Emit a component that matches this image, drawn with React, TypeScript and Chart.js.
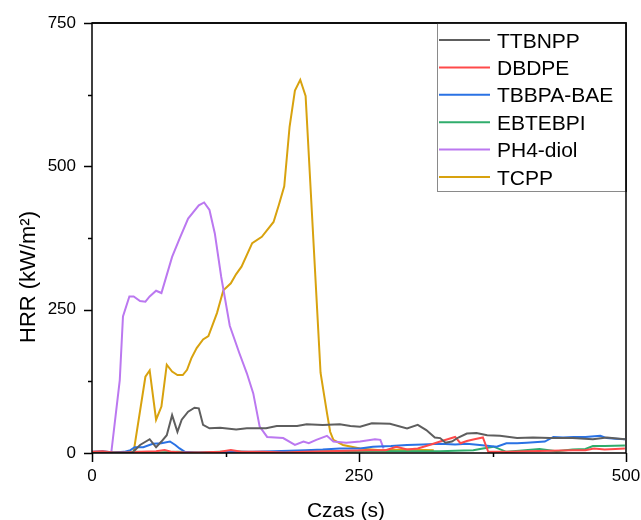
import React, { useEffect, useRef } from "react";
import { Chart, registerables } from "chart.js";

Chart.register(...registerables);

// ---- data (time in s, HRR in kW/m²) ----
const ttbnppT = [0, 38, 45, 54, 60, 65, 70, 75, 80, 84, 90, 96, 100, 104, 110, 120, 135, 145, 163, 173, 192, 201, 216, 232, 242, 251, 262, 279, 295, 305, 313, 321, 326, 331, 337, 343, 351, 360, 370, 382, 398, 413, 429, 450, 469, 482, 499];
const ttbnppV = [0, 1, 14, 24, 10, 20, 31, 66, 37, 58, 72, 79, 78, 49, 43, 44, 41, 43, 43, 47, 47, 50, 49, 50, 47, 46, 52, 51, 43, 49, 40, 27, 26, 18, 20, 27, 34, 35, 31, 30, 26, 27, 26, 26, 24, 27, 24];

const dbdpeT = [0, 10, 20, 30, 45, 60, 68, 75, 85, 100, 120, 130, 140, 160, 180, 200, 220, 240, 260, 275, 285, 295, 305, 316, 326, 333, 340, 345, 351, 358, 366, 371, 380, 390, 407, 430, 450, 462, 470, 480, 490, 499];
const dbdpeV = [2, 3, 1, 1, 2, 3, 5, 2, 1, 1, 2, 5, 2, 2, 1, 2, 3, 4, 5, 5, 11, 6, 8, 14, 20, 24, 28, 17, 21, 24, 27, 2, 2, 2, 3, 4, 5, 5, 8, 6, 7, 8];

const tbbpaT = [0, 10, 20, 30, 36, 40, 48, 57, 65, 73, 78, 82, 87, 95, 110, 130, 150, 170, 185, 200, 216, 232, 251, 263, 280, 295, 310, 326, 340, 351, 363, 379, 388, 398, 407, 424, 432, 441, 451, 462, 476, 482, 490, 499];
const tbbpaV = [2, 3, 1, 2, 5, 10, 10, 16, 17, 20, 14, 8, 2, 1, 1, 2, 2, 3, 4, 5, 6, 8, 8, 11, 12, 14, 15, 16, 15, 16, 14, 11, 17, 17, 18, 20, 28, 27, 28, 28, 30, 26, 25, 24];

const ebtebpiT = [0, 20, 40, 60, 80, 100, 120, 140, 160, 180, 200, 220, 240, 260, 280, 300, 326, 340, 357, 366, 376, 388, 400, 419, 435, 450, 462, 469, 480, 499];
const ebtebpiV = [1, 1, 2, 1, 2, 1, 2, 2, 1, 2, 2, 3, 2, 3, 3, 3, 3, 4, 5, 8, 11, 2, 4, 7, 3, 6, 7, 12, 12, 13];

const ph4T = [18, 26, 29, 35, 39, 45, 50, 54, 60, 65, 75, 82, 90, 100, 105, 110, 115, 121, 129, 138, 145, 151, 157, 164, 179, 190, 198, 203, 210, 220, 226, 238, 251, 265, 270, 273];
const ph4V = [0, 127, 238, 273, 273, 265, 264, 273, 283, 279, 342, 374, 409, 432, 437, 424, 383, 307, 222, 174, 139, 104, 46, 28, 26, 14, 20, 17, 23, 30, 20, 18, 20, 24, 23, 8];

const tcppT = [38, 39, 50, 54, 60, 65, 70, 75, 80, 85, 89, 93, 98, 104, 109, 117, 123, 130, 135, 140, 150, 159, 170, 175, 180, 185, 190, 195, 200, 214, 217, 220, 223, 226, 235, 251, 270, 295, 320];
const tcppV = [0, 2, 133, 144, 58, 81, 154, 142, 136, 136, 145, 165, 183, 198, 204, 244, 284, 296, 312, 325, 366, 377, 403, 433, 465, 569, 632, 651, 623, 140, 105, 70, 37, 23, 14, 8, 5, 6, 5];

const seriesLabels = ["TTBNPP", "DBDPE", "TBBPA-BAE", "EBTEBPI", "PH4-diol", "TCPP"];
const seriesColors = ["#5e5e5e", "#ff4a4a", "#2a72e4", "#30ad6c", "#bb78f0", "#d8a20e"];
const seriesTimes = [ttbnppT, dbdpeT, tbbpaT, ebtebpiT, ph4T, tcppT];
const seriesValues = [ttbnppV, dbdpeV, tbbpaV, ebtebpiV, ph4V, tcppV];

const yTicks = [0, 125, 250, 375, 500, 625, 750];
const xTicks = [0, 125, 250, 375, 500];

const FONT = '"Liberation Sans", Arial, sans-serif';

const decorPlugin = {
  id: "decor",
  afterDraw(chart: any) {
    const { ctx, chartArea: a, scales } = chart;
    ctx.save();
    // frame
    ctx.strokeStyle = "#000";
    ctx.lineWidth = 1.5;
    ctx.strokeRect(a.left, a.top, a.right - a.left, a.bottom - a.top);
    // ticks
    ctx.beginPath();
    for (const v of yTicks) {
      const p = Math.round(scales.y.getPixelForValue(v)) + 0.5;
      const len = v % 250 === 0 ? 8 : 4;
      ctx.moveTo(a.left - len, p);
      ctx.lineTo(a.left, p);
    }
    for (const v of xTicks) {
      const p = Math.round(scales.x.getPixelForValue(v)) + 0.5;
      const len = v % 250 === 0 ? 9 : 4;
      ctx.moveTo(p, a.bottom);
      ctx.lineTo(p, a.bottom + len);
    }
    ctx.stroke();

    // axis titles
    ctx.fillStyle = "#000";
    ctx.font = `21px ${FONT}`;
    ctx.textAlign = "center";
    ctx.textBaseline = "alphabetic";
    ctx.fillText("Czas (s)", 346, 517);
    ctx.save();
    ctx.translate(35, 277);
    ctx.rotate(-Math.PI / 2);
    ctx.font = `22px ${FONT}`;
    ctx.fillText("HRR (kW/m²)", 0, 0);
    ctx.restore();

    // legend
    const lx = 437, ly = a.top, lw = a.right - 437, lh = 169;
    ctx.fillStyle = "#fff";
    ctx.fillRect(lx, ly, lw, lh);
    ctx.strokeStyle = "#8a8a8a";
    ctx.lineWidth = 1;
    ctx.strokeRect(lx + 0.5, ly + 0.5, lw - 1, lh - 1);
    ctx.strokeStyle = "#000";
    ctx.lineWidth = 1.5;
    ctx.beginPath();
    ctx.moveTo(a.left, a.top);
    ctx.lineTo(a.right, a.top);
    ctx.lineTo(a.right, a.top + lh);
    ctx.stroke();
    ctx.font = `21px ${FONT}`;
    ctx.textAlign = "left";
    seriesLabels.forEach((lab, i) => {
      const y = 40 + i * 27.4;
      ctx.strokeStyle = seriesColors[i];
      ctx.lineWidth = 2;
      ctx.beginPath();
      ctx.moveTo(439, y);
      ctx.lineTo(490, y);
      ctx.stroke();
      ctx.fillStyle = "#000";
      ctx.fillText(lab, 497, y + 7.5);
    });
    ctx.restore();
  },
};

export default function App() {
  const ref = useRef<HTMLCanvasElement | null>(null);
  useEffect(() => {
    if (!ref.current) return;
    const datasets = seriesLabels.map((label, i) => ({
      label,
      data: seriesTimes[i].map((t, j) => ({ x: t, y: seriesValues[i][j] })),
      borderColor: seriesColors[i],
      backgroundColor: seriesColors[i],
      borderWidth: 2,
      pointRadius: 0,
      tension: 0,
      fill: false,
    }));
    const zeroPad = (s: any) => {
      s.paddingLeft = 0;
      s.paddingRight = 0;
      s.paddingTop = 0;
      s.paddingBottom = 0;
    };
    const chart = new Chart(ref.current, {
      type: "line",
      data: { datasets },
      options: {
        animation: false,
        responsive: false,
        maintainAspectRatio: false,
        layout: { padding: { top: 23, right: 15, left: 0, bottom: 0 } },
        plugins: { legend: { display: false }, tooltip: { enabled: false } },
        scales: {
          x: {
            type: "linear",
            min: 0,
            max: 500,
            grid: { display: false, drawTicks: false },
            border: { display: false },
            afterFit: (s: any) => { s.height = 67; zeroPad(s); },
            afterBuildTicks: (s: any) => { s.ticks = xTicks.map((v) => ({ value: v })); },
            ticks: {
              padding: 13,
              color: "#000",
              font: { family: FONT, size: 17 },
              maxRotation: 0,
              callback: (v: any) => (Number(v) % 250 === 0 ? String(v) : ""),
            },
          },
          y: {
            type: "linear",
            min: 0,
            max: 750,
            grid: { display: false, drawTicks: false },
            border: { display: false },
            afterFit: (s: any) => { s.width = 92; zeroPad(s); },
            afterBuildTicks: (s: any) => { s.ticks = yTicks.map((v) => ({ value: v })); },
            ticks: {
              padding: 16,
              color: "#000",
              font: { family: FONT, size: 17 },
              callback: (v: any) => (Number(v) % 250 === 0 ? String(v) : ""),
            },
          },
        },
      },
      plugins: [decorPlugin],
    });
    return () => chart.destroy();
  }, []);
  return (
    <div style={{ position: "absolute", left: 0, top: 0, width: 641, height: 520 }}>
      <canvas ref={ref} width={641} height={520} style={{ width: 641, height: 520 }} />
    </div>
  );
}
